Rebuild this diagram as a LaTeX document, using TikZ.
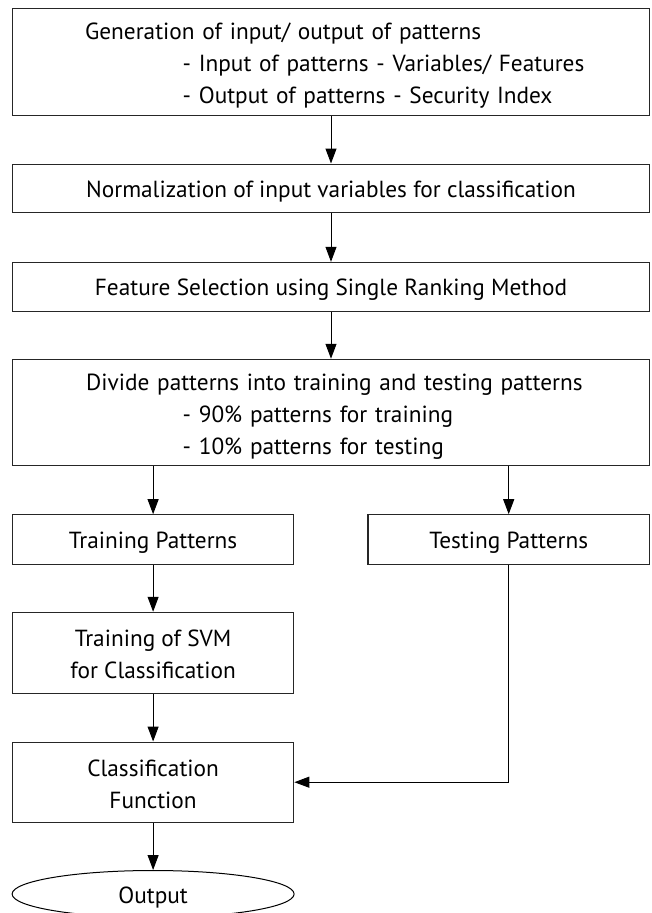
\documentclass[tikz,border=0pt]{standalone}
\usepackage{fontspec}
\setmainfont{PT Sans}
\usetikzlibrary{arrows.meta,shapes.geometric}
\newcommand{\topstrut}{\rule{0pt}{29.5pt}}
\begin{document}
\begin{tikzpicture}[x=1pt,y=-1pt,
  every node/.style={font=\fontsize{23.3}{32}\selectfont},
  box/.style={draw=black!85,line width=1.1pt,rectangle,inner sep=0pt,align=center},
  oneline/.style={text height=23.5pt,text depth=5pt},
  widebox/.style={box,oneline,minimum width=637pt},
  smallbox/.style={box,minimum width=281.4pt},
  listbox/.style={box,inner xsep=0pt,text width=637pt,align=left},
  endnode/.style={draw=black,line width=1pt,ellipse,oneline,inner sep=0pt,minimum width=282pt,minimum height=47pt},
  arr/.style={draw=black,line width=1pt,-{Triangle[length=15pt,width=11pt]}}]
\useasboundingbox (0,0) rectangle (651,913);
\node[listbox,minimum height=107.4pt] (b1) at (331,62) {\topstrut\hspace*{72.6pt}Generation of input/ output of patterns\\\hspace*{170.2pt}- Input of patterns - Variables/ Features\\\hspace*{170.2pt}- Output of patterns - Security Index\strut};
\node[widebox,minimum height=48.7pt] (b2) at (331,188.4) {Normalization of input variables for classification};
\node[widebox,minimum height=48.7pt] (b3) at (331,286.7) {Feature Selection using Single Ranking Method};
\node[listbox,minimum height=106.4pt] (b4) at (331,412.5) {\topstrut\hspace*{73.6pt}Divide patterns into training and testing patterns\\\hspace*{170.2pt}- 90\% patterns for training\\\hspace*{170.2pt}- 10\% patterns for testing\strut};
\node[smallbox,oneline,minimum height=49.3pt] (trp) at (153.1,539.4) {Training Patterns};
\node[smallbox,oneline,minimum height=49.3pt] (tep) at (508.7,539.4) {Testing Patterns};
\node[smallbox,minimum height=81pt] (svm) at (153.1,652.8) {\topstrut Training of SVM\\for Classification\strut};
\node[smallbox,minimum height=80.3pt] (cf) at (153.1,782.2) {\topstrut Classification\\Function\strut};
\node[endnode] (out) at (153.1,894) {Output};
\draw[arr] (b1) -- (b2);
\draw[arr] (b2) -- (b3);
\draw[arr] (b3) -- (b4);
\draw[arr] (trp.north |- b4.south) -- (trp);
\draw[arr] (tep.north |- b4.south) -- (tep);
\draw[arr] (trp) -- (svm);
\draw[arr] (svm) -- (cf);
\draw[arr] (cf) -- (out);
\draw[arr] (tep.south) |- (cf.east);
\end{tikzpicture}
\end{document}
